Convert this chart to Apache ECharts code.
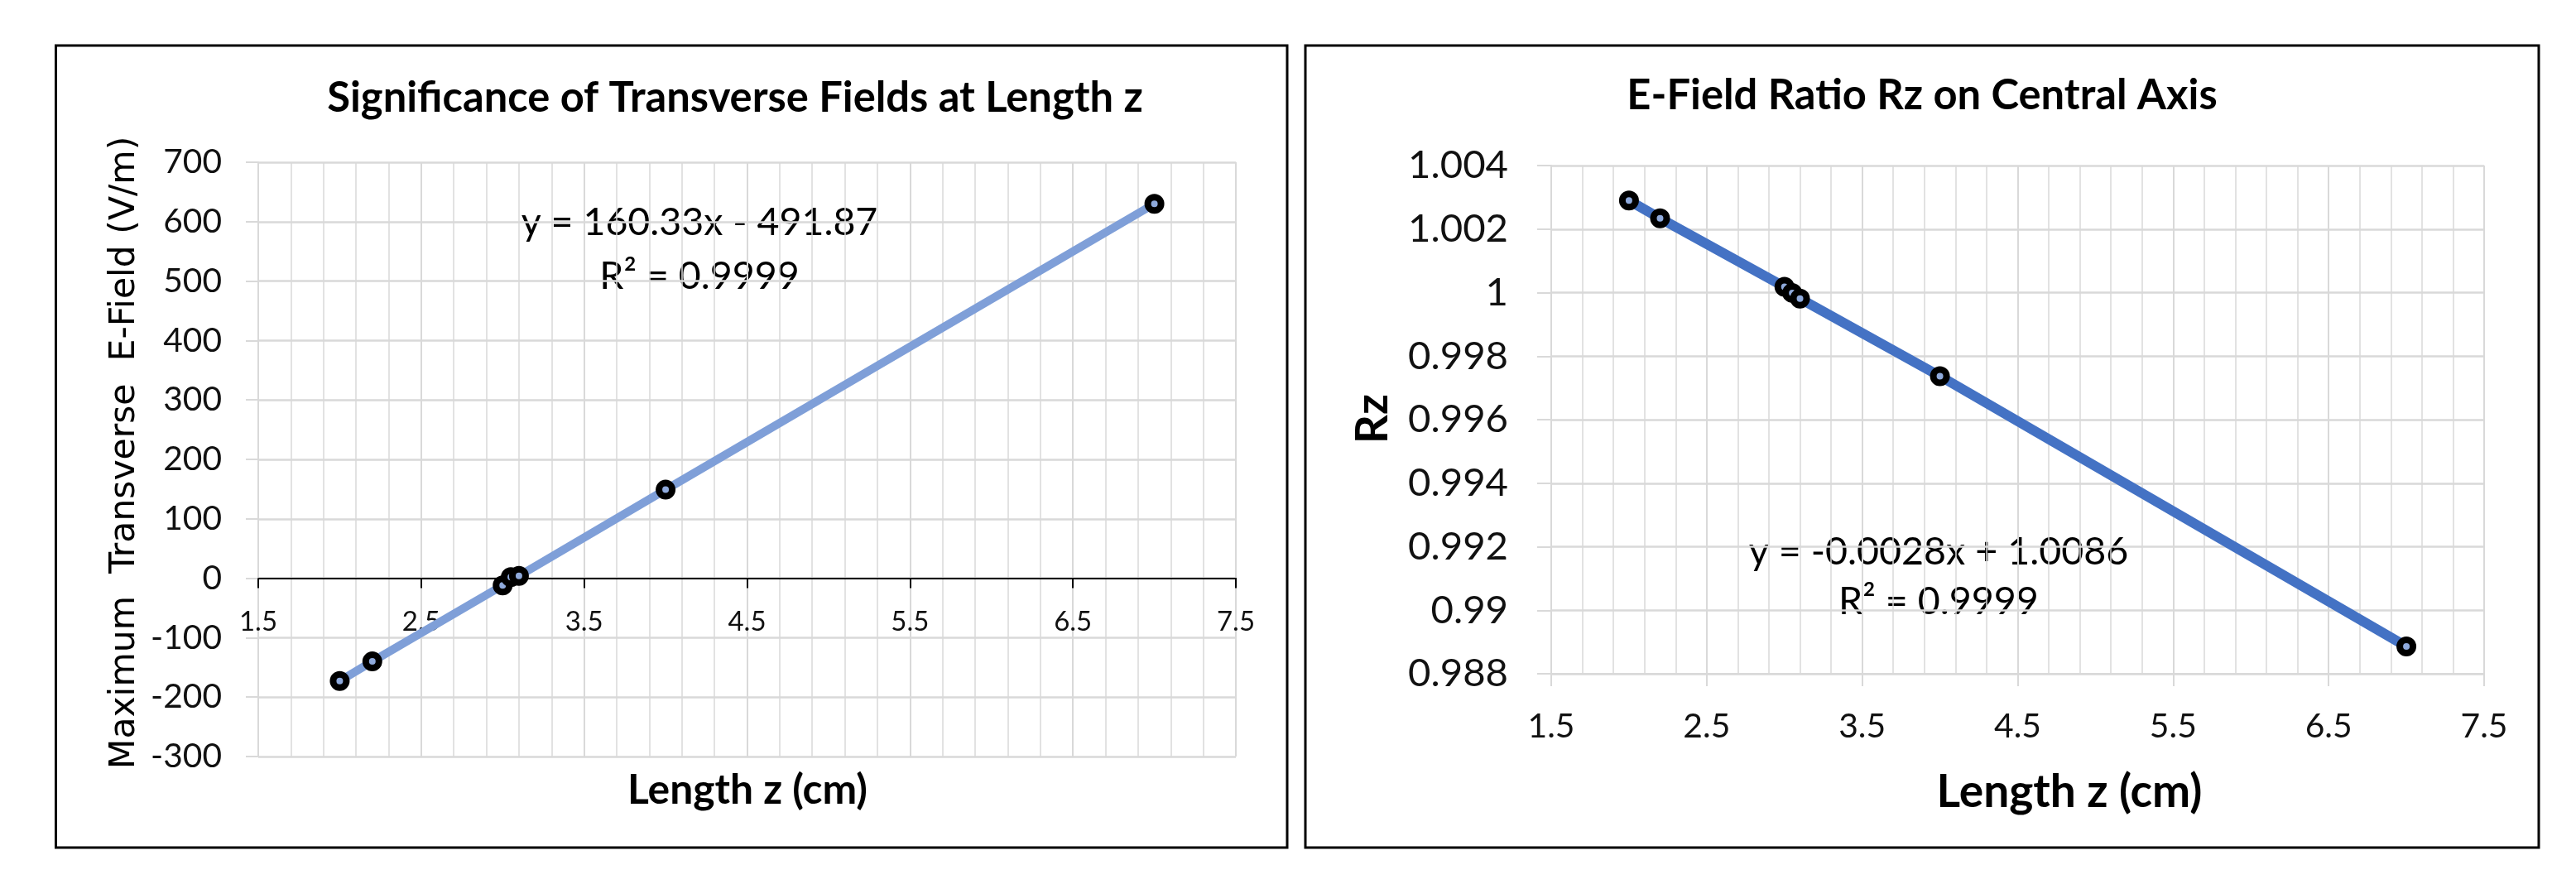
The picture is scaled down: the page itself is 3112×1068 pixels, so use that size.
<!DOCTYPE html>
<html>
<head>
<meta charset="utf-8">
<script src="https://cdn.jsdelivr.net/npm/echarts@6/dist/echarts.min.js"></script>
<style>
html,body{margin:0;padding:0;background:#fff;}
#c{width:3112px;height:1068px;}
</style>
</head>
<body>
<div id="c"></div>
<script>
// ---- data ----
const lengthZ = [2, 2.2, 3, 3.05, 3.1, 4, 7];
const transverseField = [-173, -140, -12, 2, 4, 149, 630];
const ratioRz = [1.0029, 1.00234, 1.00018, 0.99999, 0.99981, 0.99737, 0.98886];
const leftTitle = 'Significance of Transverse Fields at Length z';
const rightTitle = 'E-Field Ratio Rz on Central Axis';
const leftEquation = ['y = 160.33x - 491.87', 'R\u00B2 = 0.9999'];
const rightEquation = ['y = -0.0028x + 1.0086', 'R\u00B2 = 0.9999'];
const xAxisTitle = 'Length z (cm)';
const leftYTitle = 'Maximum  Transverse  E-Field (V/m)';
const rightYTitle = 'Rz';

const F = 'Lato, "Open Sans", sans-serif';
const DV = '"DejaVu Sans", sans-serif';
const grey = '#d9d9d9';

// size a font so that the text spans a given width (layout helper)
const mctx = document.createElement('canvas').getContext('2d');
function fit(text, weight, family, width){
  mctx.font = weight + ' 100px ' + family;
  return Math.round(100 * width / mctx.measureText(text).width * 10) / 10;
}
function pairs(xs, ys){ return xs.map((x,i)=>[x, ys[i]]); }

const titleSize = fit(leftTitle, 'bold', F, 985);
const leftEqSize = fit(leftEquation[0], 'normal', F, 431);
const rightEqSize = fit(rightEquation[0], 'normal', F, 459);
const leftXTitleSize = fit(xAxisTitle, 'bold', F, 290);
const rightXTitleSize = fit(xAxisTitle, 'bold', F, 321);
const leftYTitleSize = fit(leftYTitle, 'normal', DV, 765);
const rzSize = fit(rightYTitle, 'bold', F, 60);
const leftYLabelSize = fit('-100', 'normal', F, 86);
const leftXLabelSize = fit('1.5', 'normal', F, 46);
const rightYLabelSize = fit('1.004', 'normal', F, 121);
const rightXLabelSize = fit('1.5', 'normal', F, 57);

const chart = echarts.init(document.getElementById('c'), null, {renderer:'canvas'});

function xAxisCfg(gridIndex, labelSize, margin, offset, lineColor, tickLen){
  return {
    type:'value', gridIndex, min:1.5, max:7.5, interval:1, position:'bottom', offset:offset,
    axisLine:{show:true, onZero:false, lineStyle:{color:lineColor, width:2}},
    axisTick:{show:true, inside:false, length:tickLen, lineStyle:{color:lineColor, width:2}},
    axisLabel:{fontFamily:F, fontSize:labelSize, color:'#111', margin:margin},
    splitLine:{show:true, lineStyle:{color:grey, width:2}},
    minorTick:{show:false, splitNumber:5},
    minorSplitLine:{show:true, lineStyle:{color:grey, width:1.5}}
  };
}
function yAxisCfg(gridIndex, min, max, interval, labelSize, margin, tickLen){
  return {
    type:'value', gridIndex, min, max, interval,
    axisLine:{show:true, lineStyle:{color:grey, width:2}},
    axisTick:{show:true, inside:false, length:tickLen, lineStyle:{color:grey, width:2}},
    axisLabel:{fontFamily:F, fontSize:labelSize, color:'#111', margin:margin},
    splitLine:{show:true, lineStyle:{color:grey, width:2.5}}
  };
}

const G0 = {left:312, top:196, width:1181, height:718};
const zeroOffset = (G0.top + G0.height * 0.7) - (G0.top + G0.height);

const option = {
  backgroundColor:'#fff',
  animation:false,
  grid:[
    G0,
    {left:1874, top:200, width:1127, height:614}
  ],
  xAxis:[
    xAxisCfg(0, leftXLabelSize, 36, zeroOffset, '#000', 12),
    xAxisCfg(1, rightXLabelSize, 43, 0, grey, 15)
  ],
  yAxis:[
    yAxisCfg(0, -300, 700, 100, leftYLabelSize, 44, 15),
    yAxisCfg(1, 0.988, 1.004, 0.002, rightYLabelSize, 52, 17)
  ],
  series:[
    {
      type:'line', xAxisIndex:0, yAxisIndex:0,
      data:pairs(lengthZ, transverseField),
      lineStyle:{color:'#7F9FD8', width:10},
      symbol:'circle', symbolSize:16,
      itemStyle:{color:'#8FAADC', borderColor:'#000', borderWidth:8},
      z:5
    },
    {
      type:'line', xAxisIndex:1, yAxisIndex:1,
      data:pairs(lengthZ, ratioRz),
      lineStyle:{color:'#4472C4', width:12},
      symbol:'circle', symbolSize:16,
      itemStyle:{color:'#8FAADC', borderColor:'#000', borderWidth:8},
      z:5
    }
  ],
  graphic:[
    {type:'rect', shape:{x:67.5, y:55, width:1487.5, height:969}, style:{fill:null, stroke:'#000', lineWidth:3}, silent:true},
    {type:'rect', shape:{x:1577, y:55, width:1490, height:969}, style:{fill:null, stroke:'#000', lineWidth:3}, silent:true},
    {type:'text', x:888, y:119, style:{text:leftTitle, font:'bold '+titleSize+'px '+F, fill:'#000', textAlign:'center', textVerticalAlign:'middle'}},
    {type:'text', x:2322, y:116, style:{text:rightTitle, font:'bold '+titleSize+'px '+F, fill:'#000', textAlign:'center', textVerticalAlign:'middle'}},
    {type:'text', x:845, y:269, style:{text:leftEquation[0], font:leftEqSize+'px '+F, fill:'#000', textAlign:'center', textVerticalAlign:'middle'}},
    {type:'text', x:845, y:334, style:{text:leftEquation[1], font:leftEqSize+'px '+F, fill:'#000', textAlign:'center', textVerticalAlign:'middle'}},
    {type:'text', x:2342, y:667, style:{text:rightEquation[0], font:rightEqSize+'px '+F, fill:'#000', textAlign:'center', textVerticalAlign:'middle'}},
    {type:'text', x:2342, y:727, style:{text:rightEquation[1], font:rightEqSize+'px '+F, fill:'#000', textAlign:'center', textVerticalAlign:'middle'}},
    {type:'text', x:903, y:955, style:{text:xAxisTitle, font:'bold '+leftXTitleSize+'px '+F, fill:'#000', textAlign:'center', textVerticalAlign:'middle'}},
    {type:'text', x:2500, y:957, style:{text:xAxisTitle, font:'bold '+rightXTitleSize+'px '+F, fill:'#000', textAlign:'center', textVerticalAlign:'middle'}},
    {type:'text', x:151, y:547, rotation:Math.PI/2, style:{text:leftYTitle, font:leftYTitleSize+'px '+DV, fill:'#000', textAlign:'center', textVerticalAlign:'middle'}},
    {type:'text', x:1658, y:506, rotation:Math.PI/2, style:{text:rightYTitle, font:'bold '+rzSize+'px '+F, fill:'#000', textAlign:'center', textVerticalAlign:'middle'}}
  ]
};
chart.setOption(option);
</script>
</body>
</html>
